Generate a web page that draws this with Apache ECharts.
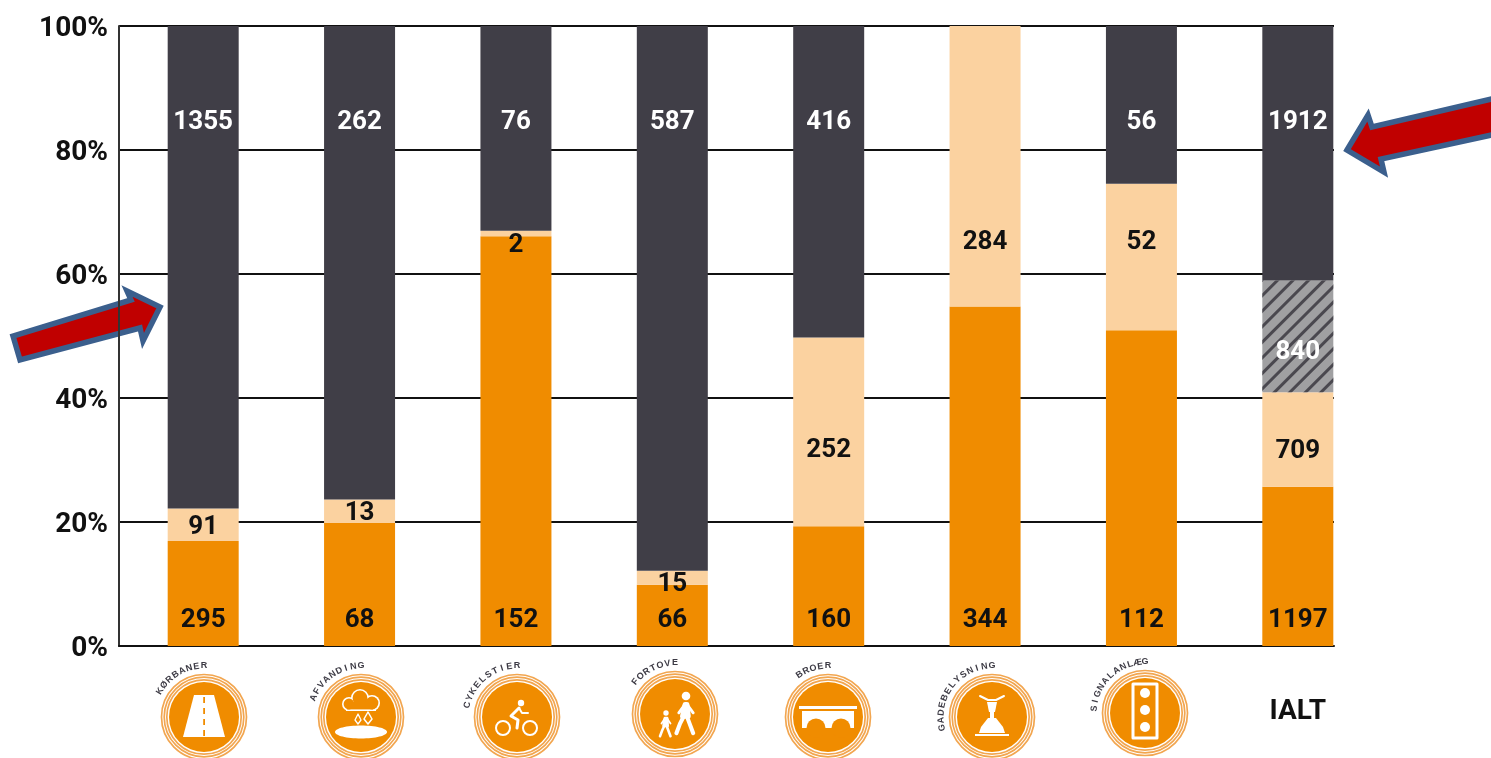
<!DOCTYPE html>
<html>
<head>
<meta charset="utf-8">
<title>Chart</title>
<style>
    html, body { margin: 0; padding: 0; background: #fff; }
    #chart { width: 1491px; height: 758px; }
</style>
<script src="https://cdn.jsdelivr.net/npm/echarts@6/dist/echarts.min.js"></script>
</head>
<body>
<div id="chart"></div>
<script>
// counts
const categories = ['KØRBANER', 'AFVANDING', 'CYKELSTIER', 'FORTOVE', 'BROER', 'GADEBELYSNING', 'SIGNALANLÆG', 'IALT'];
const orangeValues = [295, 68, 152, 66, 160, 344, 112, 1197];
const lightValues = [91, 13, 2, 15, 252, 284, 52, 709];
const hatchedValues = [0, 0, 0, 0, 0, 0, 0, 840];
const darkValues = [1355, 262, 76, 587, 416, 0, 56, 1912];
const yTicks = [0, 20, 40, 60, 80, 100];

const ORANGE = '#f08c00';
const LIGHT = '#fbd2a0';
const DARK = '#403e47';
const FONT = 'Roboto';

// vertical nudge of the labels that do not sit in the middle of their segment
const lightLabelShift = [3, 2, 12, 7, 19, 76, -15, 12];
const hatchedLabelShift = 16;

const totals = categories.map((c, i) => orangeValues[i] + lightValues[i] + hatchedValues[i] + darkValues[i]);

function makeSeries (name, values, color, labelOption) {
    return {
        name: name,
        type: 'bar',
        stack: 'all',
        xAxisIndex: 1,
        yAxisIndex: 1,
        barWidth: 71,
        itemStyle: { color: color },
        data: values.map((v, i) => ({
            value: v / totals[i] * 100,
            label: Object.assign({
                show: v > 0,
                formatter: String(v),
                fontFamily: FONT,
                fontWeight: 'bold',
                fontSize: 26
            }, labelOption(i))
        }))
    };
}

const series = [
    makeSeries('orange', orangeValues, ORANGE, () => ({ position: 'insideBottom', distance: 13, color: '#111' })),
    makeSeries('light', lightValues, LIGHT, i => ({ position: 'inside', offset: [0, lightLabelShift[i]], color: '#111' })),
    makeSeries('hatched', hatchedValues, '#a0a0a2', () => ({ position: 'inside', offset: [0, hatchedLabelShift], color: '#fff' })),
    makeSeries('dark', darkValues, DARK, () => ({ position: 'insideTop', distance: 83, color: '#fff' }))
];
series[2].itemStyle.decal = {
    symbol: 'rect',
    color: '#4a484f',
    dashArrayX: [1, 0],
    dashArrayY: [3, 8],
    rotation: -Math.PI / 4
};

// ---- icons under the bars ----
const iconCenters = [[204, 717], [361, 717], [517, 717], [675, 714], [828, 717], [992, 717], [1145, 713]];

function circle (x, y, r, style) {
    return { type: 'circle', shape: { cx: x, cy: y, r: r }, style: style, silent: true };
}
function poly (points, style, open) {
    return { type: open ? 'polyline' : 'polygon', shape: { points: points }, style: style, silent: true };
}
function box (x, y, w, h, fill) {
    return { type: 'rect', shape: { x: x, y: y, width: w, height: h }, style: { fill: fill }, silent: true };
}
const white = { fill: '#fff' };
const orangeFill = { fill: ORANGE };
const whiteLine = w => ({ stroke: '#fff', fill: 'none', lineWidth: w, lineCap: 'round', lineJoin: 'round' });

function ringElements () {
    return [
        circle(0, 0, 42.5, { fill: '#fff', stroke: '#f2a650', lineWidth: 1.7 }),
        circle(0, 0, 39.8, { fill: '#fff', stroke: '#f2a650', lineWidth: 1.7 }),
        circle(0, 0, 37.2, { fill: '#fff', stroke: '#f2a650', lineWidth: 1.7 }),
        circle(0, 0, 35, { fill: ORANGE })
    ];
}

function personElements (x, y, s) {
    return [
        circle(x, y, 3.6 * s, white),
        poly([[x - 1, y + 7 * s], [x + 1, y + 7 * s], [x + 2 * s, y + 17 * s], [x - 3 * s, y + 17 * s]], Object.assign({ fill: '#fff' }, whiteLine(4 * s))),
        poly([[x - 1, y + 15 * s], [x - 5 * s, y + 23 * s], [x - 8 * s, y + 31 * s]], whiteLine(3.4 * s), true),
        poly([[x, y + 15 * s], [x + 3 * s, y + 23 * s], [x + 6 * s, y + 31 * s]], whiteLine(3.4 * s), true),
        poly([[x - 1, y + 7 * s], [x - 6 * s, y + 14 * s]], whiteLine(2.4 * s), true),
        poly([[x + 1, y + 7 * s], [x + 6 * s, y + 14 * s]], whiteLine(2.4 * s), true)
    ];
}

const iconDrawers = [
    // road
    () => [
        poly([[-10, -22], [10, -22], [21, 20], [-21, 20]], white),
        box(-0.8, -20, 1.8, 6, ORANGE), box(-0.8, -9, 1.8, 6, ORANGE), box(-0.8, 2, 1.8, 6, ORANGE), box(-0.8, 13, 1.8, 6, ORANGE)
    ],
    // rain cloud
    () => [
        circle(-12, -13, 7, white), circle(-1, -19, 9, white), circle(11, -14, 8, white), box(-15, -14, 30, 8, '#fff'),
        circle(-12, -13, 5.4, orangeFill), circle(-1, -19, 7.4, orangeFill), circle(11, -14, 6.4, orangeFill), box(-14, -15, 26, 7.4, ORANGE),
        poly([[-3, -3], [-6, 3], [-3, 7], [0, 3]], whiteLine(1.3)),
        poly([[7, -5], [3, 2], [7, 7], [11, 2]], whiteLine(1.5)),
        { type: 'ellipse', shape: { cx: 0, cy: 15, rx: 26, ry: 6.5 }, style: white, silent: true }
    ],
    // cyclist
    () => [
        circle(-14, 11, 7, whiteLine(2)), circle(13, 11, 7, whiteLine(2)), circle(4, -14, 3.2, white),
        poly([[2, -9], [-6, -1], [1, 3], [0, 11]], whiteLine(3), true),
        poly([[2, -9], [5, -4], [11, -4]], whiteLine(2), true)
    ],
    // two walkers
    () => personElements(11, -18, 1.2).concat(personElements(-9, -1, 0.75)),
    // bridge
    () => [
        box(-29, -11, 58, 3, '#fff'),
        box(-26, -6, 52, 17, '#fff'),
        circle(-12, 11, 9.5, orangeFill), circle(13, 11, 9.5, orangeFill),
        box(-23, 11, 46, 6, ORANGE)
    ],
    // street lamp
    () => [
        poly([[-12, -21], [-4, -17], [4, -17], [12, -21]], whiteLine(2), true),
        poly([[-5, -15], [5, -15], [3, -5], [-3, -5]], white),
        box(-2, -5, 4, 6, '#fff'),
        poly([[-4, 1], [4, 1], [11, 10], [13, 16], [-13, 16], [-11, 10]], white),
        box(-17, 17, 34, 2, '#fff')
    ],
    // traffic light
    () => [
        { type: 'rect', shape: { x: -12, y: -29, width: 24, height: 54 }, style: whiteLine(3), silent: true },
        circle(0, -20, 5, white), circle(0, -3, 5, white), circle(0, 14, 5, white)
    ]
];

// the small caption follows the ring, ending at the top of it
function arcCaption (text, radius) {
    const step = 8.5 * Math.PI / 180;
    return Array.from(text).map((ch, i, all) => {
        const angle = -Math.PI / 2 - (all.length - 1 - i) * step;
        return {
            type: 'text',
            silent: true,
            x: Math.cos(angle) * radius,
            y: Math.sin(angle) * radius,
            rotation: -(angle + Math.PI / 2),
            style: {
                text: ch,
                fill: '#3c3a44',
                font: 'bold 9px "Liberation Sans"',
                textAlign: 'center',
                textVerticalAlign: 'middle'
            }
        };
    });
}

const iconGraphics = iconCenters.map((center, i) => ({
    type: 'group',
    x: center[0],
    y: center[1],
    children: ringElements().concat(iconDrawers[i]()).concat(arcCaption(categories[i], 51))
}));

// ---- the two red arrows ----
const arrowStyle = { fill: '#c00000', stroke: '#3b5f8d', lineWidth: 5.5, lineJoin: 'miter', miterLimit: 10 };
const arrowGraphics = [
    poly([[13, 336], [20, 360], [140, 328], [143, 341], [160, 307], [127, 291], [131, 300]], arrowStyle),
    poly([[1347, 150], [1368, 115], [1372, 127], [1496, 98], [1496, 134], [1381, 159], [1384, 172]], arrowStyle)
];

const option = {
    animation: false,
    // the axes span 119..1334, the bars sit on a slightly wider band grid
    grid: [
        { left: 119, right: 157, top: 26, bottom: 112 },
        { left: 125, right: 115, top: 26, bottom: 112 }
    ],
    xAxis: [
        {
            type: 'category',
            gridIndex: 0,
            data: categories,
            axisTick: { show: false },
            axisLabel: { show: false },
            axisLine: { lineStyle: { color: '#111', width: 2 } }
        },
        {
            type: 'category',
            gridIndex: 1,
            data: categories,
            axisTick: { show: false },
            axisLine: { show: false },
            axisLabel: {
                interval: 0,
                margin: 52,
                color: '#111',
                fontFamily: FONT,
                fontWeight: 'bold',
                fontSize: 28,
                formatter: v => (v === 'IALT' ? v : '')
            }
        }
    ],
    yAxis: [
        {
            type: 'value',
            gridIndex: 0,
            min: yTicks[0],
            max: yTicks[yTicks.length - 1],
            interval: yTicks[1] - yTicks[0],
            axisTick: { show: false },
            axisLine: { show: true, lineStyle: { color: '#333', width: 2 } },
            splitLine: { lineStyle: { color: '#111', width: 2 } },
            axisLabel: {
                margin: 11,
                formatter: '{tick|{value}%}',
                rich: {
                    tick: {
                        padding: [6, 0, 0, 0],
                        color: '#111',
                        fontFamily: FONT,
                        fontWeight: 'bold',
                        fontSize: 28
                    }
                }
            }
        },
        { type: 'value', gridIndex: 1, min: 0, max: 100, show: false }
    ],
    series: series,
    graphic: { elements: iconGraphics.concat(arrowGraphics) }
};

const myChart = echarts.init(document.getElementById('chart'), null, { renderer: 'canvas' });
myChart.setOption(option);
</script>
</body>
</html>
